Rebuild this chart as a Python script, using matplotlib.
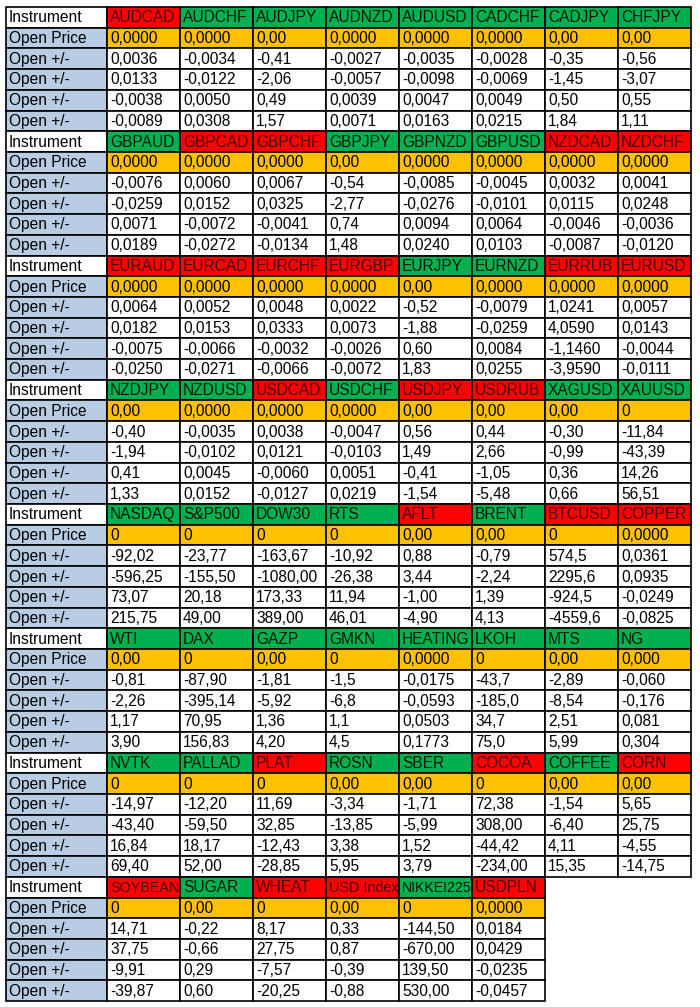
import matplotlib
matplotlib.use('Agg')
import matplotlib.pyplot as plt
from matplotlib.patches import Rectangle

# instruments, 8 per block; 'R' = red header, 'G' = green header
instruments = ['AUDCAD', 'AUDCHF', 'AUDJPY', 'AUDNZD', 'AUDUSD', 'CADCHF', 'CADJPY', 'CHFJPY',
               'GBPAUD', 'GBPCAD', 'GBPCHF', 'GBPJPY', 'GBPNZD', 'GBPUSD', 'NZDCAD', 'NZDCHF',
               'EURAUD', 'EURCAD', 'EURCHF', 'EURGBP', 'EURJPY', 'EURNZD', 'EURRUB', 'EURUSD',
               'NZDJPY', 'NZDUSD', 'USDCAD', 'USDCHF', 'USDJPY', 'USDRUB', 'XAGUSD', 'XAUUSD',
               'NASDAQ', 'S&P500', 'DOW30', 'RTS', 'AFLT', 'BRENT', 'BTCUSD', 'COPPER',
               'WTI', 'DAX', 'GAZP', 'GMKN', 'HEATING', 'LKOH', 'MTS', 'NG',
               'NVTK', 'PALLAD', 'PLAT', 'ROSN', 'SBER', 'COCOA', 'COFFEE', 'CORN',
               'SOYBEAN', 'SUGAR', 'WHEAT', 'USD Index', 'NIKKEI225', 'USDPLN']
trend = ('RGGGGGGG' 'GRRGGGRR' 'RRRRGGRR' 'GGRGRRGG'
         'GGGGRGRR' 'GGGGGGGG' 'GGRGGRGR' 'RGRRGR')

open_price = ['0,0000', '0,0000', '0,00', '0,0000', '0,0000', '0,0000', '0,00', '0,00',
              '0,0000', '0,0000', '0,0000', '0,00', '0,0000', '0,0000', '0,0000', '0,0000',
              '0,0000', '0,0000', '0,0000', '0,0000', '0,00', '0,0000', '0,0000', '0,0000',
              '0,00', '0,0000', '0,0000', '0,0000', '0,00', '0,00', '0,00', '0',
              '0', '0', '0', '0', '0,00', '0,00', '0', '0,0000',
              '0,00', '0', '0,00', '0', '0,0000', '0', '0,00', '0,000',
              '0', '0', '0', '0,00', '0,00', '0', '0,00', '0,00',
              '0', '0,00', '0', '0,00', '0', '0,0000']

open_1 = ['0,0036', '-0,0034', '-0,41', '-0,0027', '-0,0035', '-0,0028', '-0,35', '-0,56',
          '-0,0076', '0,0060', '0,0067', '-0,54', '-0,0085', '-0,0045', '0,0032', '0,0041',
          '0,0064', '0,0052', '0,0048', '0,0022', '-0,52', '-0,0079', '1,0241', '0,0057',
          '-0,40', '-0,0035', '0,0038', '-0,0047', '0,56', '0,44', '-0,30', '-11,84',
          '-92,02', '-23,77', '-163,67', '-10,92', '0,88', '-0,79', '574,5', '0,0361',
          '-0,81', '-87,90', '-1,81', '-1,5', '-0,0175', '-43,7', '-2,89', '-0,060',
          '-14,97', '-12,20', '11,69', '-3,34', '-1,71', '72,38', '-1,54', '5,65',
          '14,71', '-0,22', '8,17', '0,33', '-144,50', '0,0184']
open_2 = ['0,0133', '-0,0122', '-2,06', '-0,0057', '-0,0098', '-0,0069', '-1,45', '-3,07',
          '-0,0259', '0,0152', '0,0325', '-2,77', '-0,0276', '-0,0101', '0,0115', '0,0248',
          '0,0182', '0,0153', '0,0333', '0,0073', '-1,88', '-0,0259', '4,0590', '0,0143',
          '-1,94', '-0,0102', '0,0121', '-0,0103', '1,49', '2,66', '-0,99', '-43,39',
          '-596,25', '-155,50', '-1080,00', '-26,38', '3,44', '-2,24', '2295,6', '0,0935',
          '-2,26', '-395,14', '-5,92', '-6,8', '-0,0593', '-185,0', '-8,54', '-0,176',
          '-43,40', '-59,50', '32,85', '-13,85', '-5,99', '308,00', '-6,40', '25,75',
          '37,75', '-0,66', '27,75', '0,87', '-670,00', '0,0429']
open_3 = ['-0,0038', '0,0050', '0,49', '0,0039', '0,0047', '0,0049', '0,50', '0,55',
          '0,0071', '-0,0072', '-0,0041', '0,74', '0,0094', '0,0064', '-0,0046', '-0,0036',
          '-0,0075', '-0,0066', '-0,0032', '-0,0026', '0,60', '0,0084', '-1,1460', '-0,0044',
          '0,41', '0,0045', '-0,0060', '0,0051', '-0,41', '-1,05', '0,36', '14,26',
          '73,07', '20,18', '173,33', '11,94', '-1,00', '1,39', '-924,5', '-0,0249',
          '1,17', '70,95', '1,36', '1,1', '0,0503', '34,7', '2,51', '0,081',
          '16,84', '18,17', '-12,43', '3,38', '1,52', '-44,42', '4,11', '-4,55',
          '-9,91', '0,29', '-7,57', '-0,39', '139,50', '-0,0235']
open_4 = ['-0,0089', '0,0308', '1,57', '0,0071', '0,0163', '0,0215', '1,84', '1,11',
          '0,0189', '-0,0272', '-0,0134', '1,48', '0,0240', '0,0103', '-0,0087', '-0,0120',
          '-0,0250', '-0,0271', '-0,0066', '-0,0072', '1,83', '0,0255', '-3,9590', '-0,0111',
          '1,33', '0,0152', '-0,0127', '0,0219', '-1,54', '-5,48', '0,66', '56,51',
          '215,75', '49,00', '389,00', '46,01', '-4,90', '4,13', '-4559,6', '-0,0825',
          '3,90', '156,83', '4,20', '4,5', '0,1773', '75,0', '5,99', '0,304',
          '69,40', '52,00', '-28,85', '5,95', '3,79', '-234,00', '15,35', '-14,75',
          '-39,87', '0,60', '-20,25', '-0,88', '530,00', '-0,0457']

row_labels = ['Instrument', 'Open Price', 'Open +/-', 'Open +/-', 'Open +/-', 'Open +/-']

# layout (pixels)
W, H = 700, 1007
x0, y0 = 6, 7
label_w = 101
col_w = 73
row_h = 20.71
per_block = 8
fs = 11.2

fill = {'R': '#FF0000', 'G': '#00B050'}
txt_col = {'R': '#4A0000', 'G': '#061806'}
orange = '#FFC000'
blue = '#B8CCE4'

plt.rcParams['font.family'] = ['Liberation Sans', 'DejaVu Sans']

fig = plt.figure(figsize=(W / 100, H / 100), dpi=100)
ax = fig.add_axes([0, 0, 1, 1])
ax.set_xlim(0, W)
ax.set_ylim(H, 0)
ax.axis('off')

texts = []


def cell(x, y, w, face, text, color='black'):
    ax.add_patch(Rectangle((x, y), w, row_h, facecolor=face, edgecolor='black', lw=1.2))
    t = ax.text(x + 3, y + row_h / 2 + 0.5, text, fontsize=fs, color=color,
                ha='left', va='center')
    texts.append((t, w))


n_blocks = (len(instruments) + per_block - 1) // per_block
for b in range(n_blocks):
    names = instruments[b * per_block:(b + 1) * per_block]
    marks = trend[b * per_block:(b + 1) * per_block]
    rows = [open_price, open_1, open_2, open_3, open_4]
    by = y0 + b * 6 * row_h
    for r, lab in enumerate(row_labels):
        cell(x0, by + r * row_h, label_w, 'white' if r == 0 else blue, lab)
    for c, (name, m) in enumerate(zip(names, marks)):
        cx = x0 + label_w + c * col_w
        k = b * per_block + c
        cell(cx, by, col_w, fill[m], name, txt_col[m])
        cell(cx, by + row_h, col_w, orange, rows[0][k])
        for r in range(1, 5):
            cell(cx, by + (r + 1) * row_h, col_w, 'white', rows[r][k])

# shrink text that does not fit its cell, like Excel's shrink-to-fit
fig.canvas.draw()
rend = fig.canvas.get_renderer()
for t, w in texts:
    tw = t.get_window_extent(rend).width
    if tw > w - 4:
        t.set_fontsize(fs * (w - 4) / tw)

fig.savefig('out.png', dpi=100, facecolor='white')
